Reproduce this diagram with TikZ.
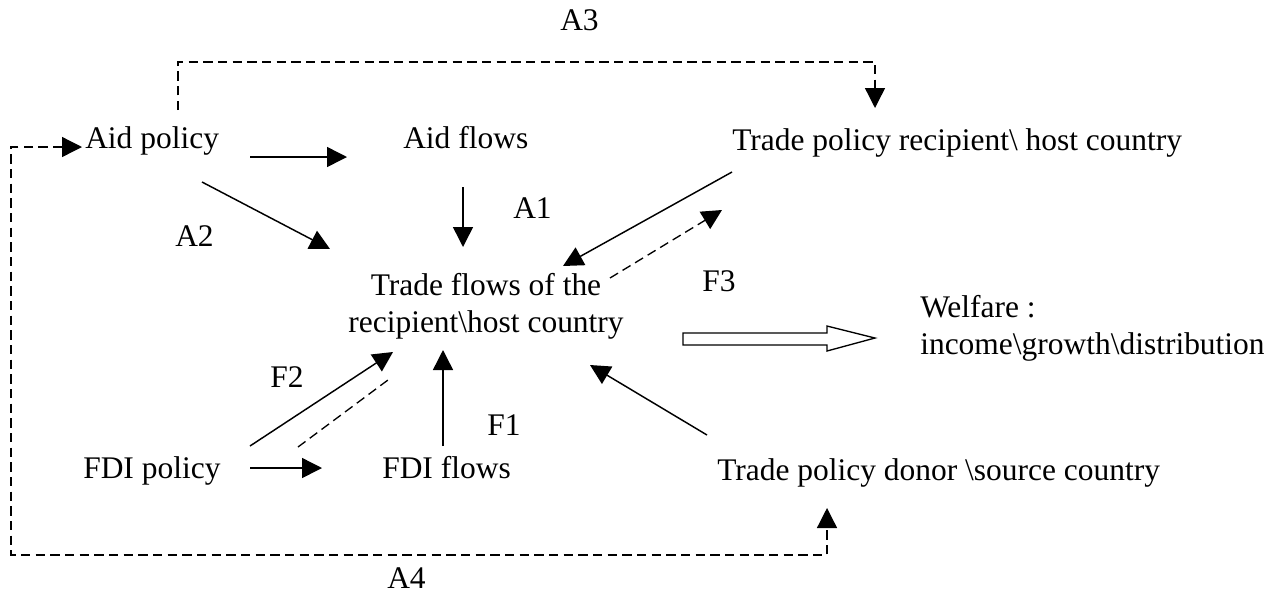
\documentclass[tikz,border=0pt]{standalone}
\usepackage{fontspec}
\setmainfont{Liberation Serif}
\usetikzlibrary{arrows.meta}
\begin{document}
\begin{tikzpicture}[x=0.75pt,y=-0.75pt,
  lbl/.style={inner sep=0pt, anchor=base west, font=\fontsize{23.6}{27.5}\selectfont},
  tip/.style={-{Triangle[length=15pt,width=15pt]}},
  arr/.style={line width=1.1pt, tip},
  dline/.style={line width=1pt, dash pattern=on 7pt off 4pt},
  darr/.style={dline, tip},
  hollow/.style={line width=1pt, fill=white, line join=miter}]
\useasboundingbox (0,0) rectangle (1280,608);

% labels
\node[lbl] (A3) at (560,30) {A3};
\node[lbl] (aidpol) at (85,148) {Aid policy};
\node[lbl] (aidflow) at (403,148) {Aid flows};
\node[lbl] (tpr) at (732,150) {Trade policy recipient\textbackslash{} host country};
\node[lbl] (A1) at (513,218) {A1};
\node[lbl] (A2) at (175,246) {A2};
\node[lbl, align=center, anchor=base] (tf) at (486,332) {Trade flows of the\\recipient\textbackslash host country};
\node[lbl] (F3) at (702,291) {F3};
\node[lbl, align=left] (welf) at (920,354) {Welfare :\\income\textbackslash growth\textbackslash distribution};
\node[lbl] (F2) at (270,387) {F2};
\node[lbl] (F1) at (487,435) {F1};
\node[lbl] (fdipol) at (83,478) {FDI policy};
\node[lbl] (fdiflow) at (382,478) {FDI flows};
\node[lbl] (tpd) at (717,480) {Trade policy donor \textbackslash source country};
\node[lbl] (A4) at (387,588) {A4};

% connector end points
\coordinate (apE) at (250,157);   \coordinate (afW) at (347,157);
\coordinate (apSE) at (202,182);  \coordinate (tfNW) at (330,249);
\coordinate (afS) at (463,187);   \coordinate (tfN) at (463,247);
\coordinate (tprSW) at (732,172); \coordinate (tfNE) at (563,266);
\coordinate (tfNE2) at (610,278); \coordinate (tprSW2) at (722,210);
\coordinate (fpNE) at (250,446);  \coordinate (tfSW) at (393,352);
\coordinate (fpNE2) at (298,447); \coordinate (tfSW2) at (392,377);
\coordinate (ffN) at (443,446);   \coordinate (tfS) at (443,350);
\coordinate (fpE) at (250,468);   \coordinate (ffW) at (322,468);
\coordinate (tpdNW) at (707,435); \coordinate (tfSE) at (590,365);
\coordinate (apN) at (178,110);   \coordinate (tprN) at (875,108);
\coordinate (apW) at (82,147);    \coordinate (tpdS) at (827,508);

% solid arrows
\draw[arr] (apE) -- (afW);
\draw[arr] (apSE) -- (tfNW);
\draw[arr] (afS) -- (tfN);
\draw[arr] (tprSW) -- (tfNE);
\draw[arr] (fpNE) -- (tfSW);
\draw[arr] (ffN) -- (tfS);
\draw[arr] (fpE) -- (ffW);
\draw[arr] (tpdNW) -- (tfSE);

% dashed links
\draw[darr] (tfNE2) -- (tprSW2);
\draw[dline] (fpNE2) -- (tfSW2);
\draw[darr] (apN) -- (178,62) -- (875,62) -- (tprN);
\draw[dline, {Triangle[length=15pt,width=15pt]}-{Triangle[length=15pt,width=15pt]}]
  (apW) -- (11,147) -- (11,555) -- (827,555) -- (tpdS);

% hollow arrow to welfare
\draw[hollow] (683,333) -- (827,333) -- (827,326) -- (875,338) -- (827,351) -- (827,345) -- (683,345) -- cycle;
\end{tikzpicture}
\end{document}
